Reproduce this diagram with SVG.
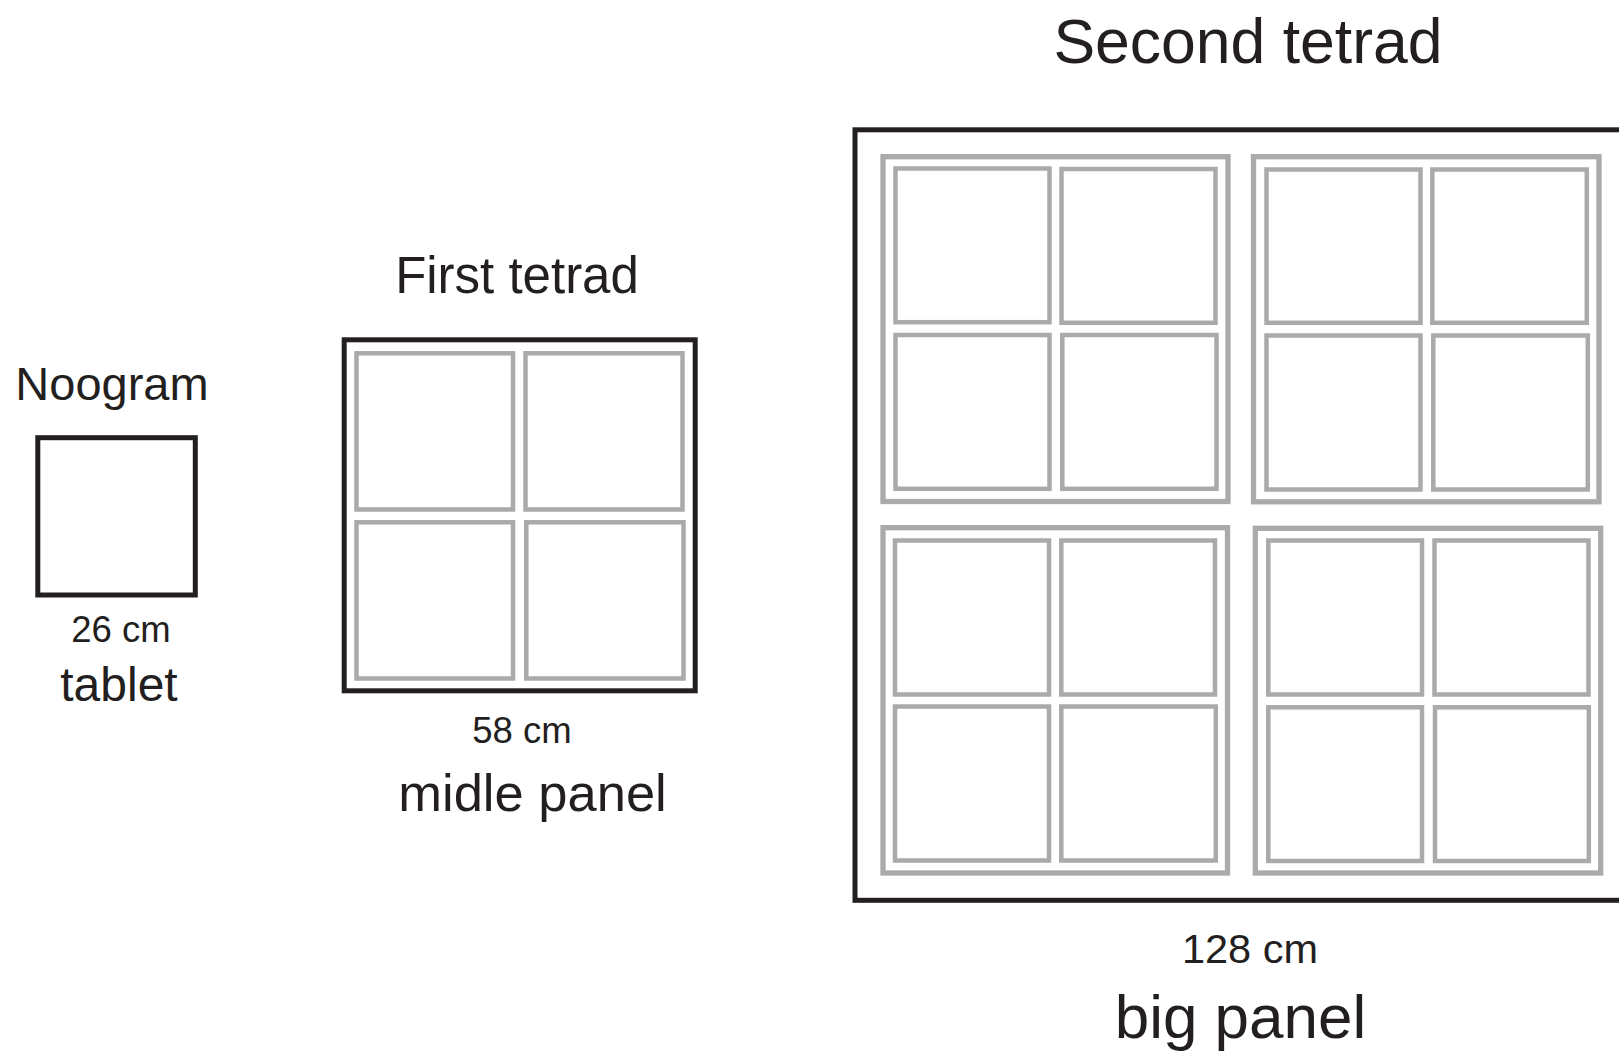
<svg xmlns="http://www.w3.org/2000/svg" width="1619" height="1053" viewBox="0 0 1619 1053">
<style>
.blk{fill:none;stroke:#231f20;stroke-width:5}
.gf{fill:none;stroke:#aaaaaa;stroke-width:5.3}
.gs{fill:none;stroke:#aaaaaa;stroke-width:4.5}
text{font-family:"Liberation Sans",Arial,sans-serif;fill:#231f20;text-anchor:middle}
</style>
<rect width="1619" height="1053" fill="#ffffff"/>
<g id="tablet">
<rect class="blk" x="37.8" y="437.7" width="157.5" height="157.3"/>
<text x="112" y="400" font-size="47">Noogram</text>
<text x="121" y="642" font-size="36.5">26 cm</text>
<text x="119" y="701" font-size="48">tablet</text>
</g>
<g id="middle-panel">
<text x="517" y="293" font-size="51">First tetrad</text>
<rect class="blk" x="344.2" y="339.8" width="351" height="351"/>
<rect class="gs" x="356.5" y="353.3" width="156.5" height="156.2"/>
<rect class="gs" x="525.5" y="353.3" width="157" height="156.2"/>
<rect class="gs" x="356.5" y="522.3" width="156.5" height="156.2"/>
<rect class="gs" x="526.3" y="522.3" width="157.2" height="156.2"/>
<text x="522" y="743" font-size="36.5">58 cm</text>
<text x="532.5" y="811" font-size="52.5">midle panel</text>
</g>
<g id="big-panel">
<text x="1248" y="63" font-size="62.5">Second tetrad</text>
<rect class="blk" x="855" y="129.8" width="775" height="770.5"/>
<g id="tetrad-tl">
<rect class="gf" x="883" y="156.7" width="345" height="344.8"/>
<rect class="gs" x="895.5" y="168.5" width="154" height="153.7"/>
<rect class="gs" x="1061.5" y="169" width="154" height="153.8"/>
<rect class="gs" x="895.5" y="335" width="154" height="153.8"/>
<rect class="gs" x="1062.3" y="335" width="154.2" height="153.8"/>
</g>
<g id="tetrad-tr">
<rect class="gf" x="1253.5" y="156.7" width="345.5" height="345.1"/>
<rect class="gs" x="1266.5" y="169.5" width="154" height="153.3"/>
<rect class="gs" x="1432.3" y="169.5" width="154.5" height="153.3"/>
<rect class="gs" x="1266.5" y="335.5" width="154" height="154"/>
<rect class="gs" x="1433.3" y="335.5" width="154.5" height="154"/>
</g>
<g id="tetrad-bl">
<rect class="gf" x="883" y="527.7" width="344.5" height="345.3"/>
<rect class="gs" x="895" y="540.5" width="154" height="154"/>
<rect class="gs" x="1061.3" y="540.5" width="153.7" height="154"/>
<rect class="gs" x="895" y="706.5" width="154" height="154"/>
<rect class="gs" x="1061.3" y="706.5" width="154.5" height="154"/>
</g>
<g id="tetrad-br">
<rect class="gf" x="1255.3" y="528.3" width="345.4" height="344.7"/>
<rect class="gs" x="1268.3" y="540.5" width="153.7" height="154"/>
<rect class="gs" x="1434.5" y="540.5" width="154" height="154"/>
<rect class="gs" x="1268.3" y="707.3" width="153.7" height="153.7"/>
<rect class="gs" x="1435" y="707.3" width="153.8" height="153.7"/>
</g>
<text x="1250" y="963" font-size="41.5">128 cm</text>
<text x="1240.5" y="1038" font-size="62">big panel</text>
</g>
<g id="connectors"/>
</svg>
